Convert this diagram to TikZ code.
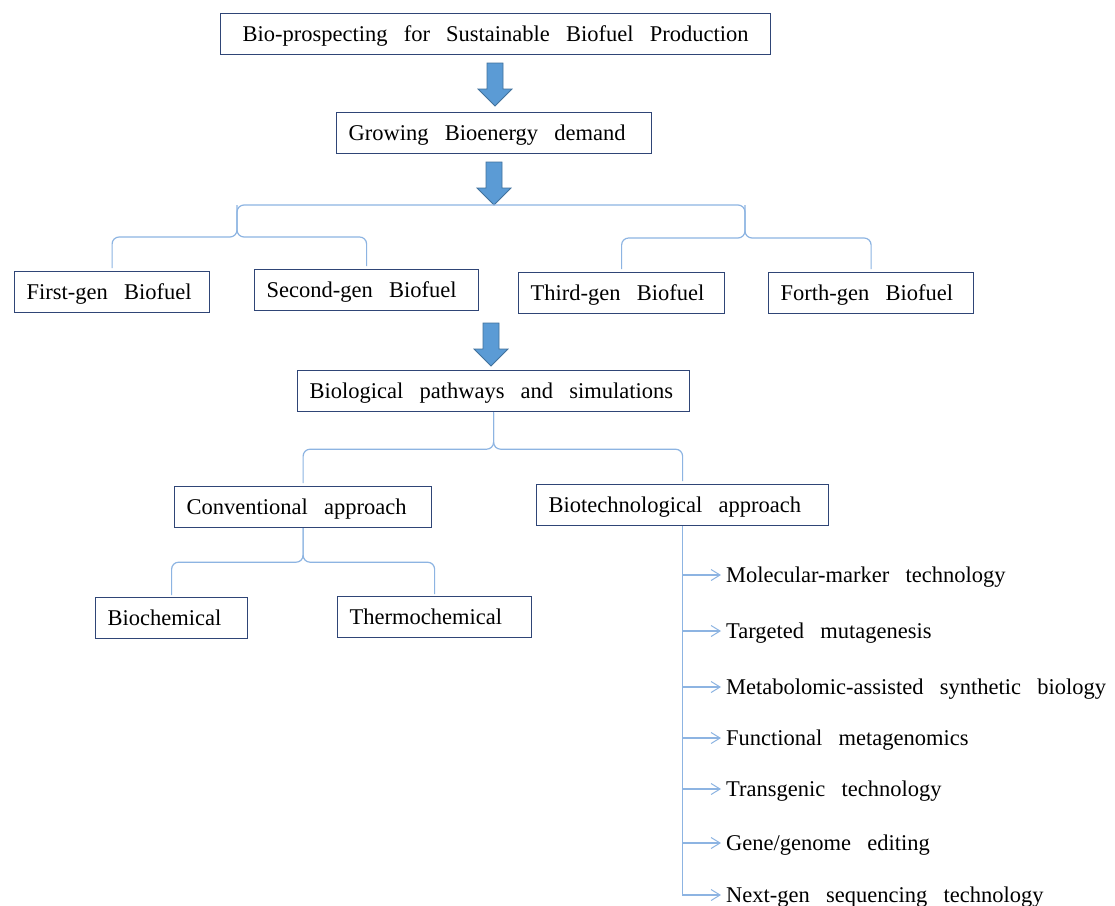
\documentclass[tikz,border=0pt]{standalone}
\usepackage{fontspec}
\setmainfont{Liberation Serif}
\usetikzlibrary{arrows.meta,calc}
\definecolor{boxc}{HTML}{2F4576}
\definecolor{bracec}{HTML}{8DB4E2}
\definecolor{arrfill}{HTML}{5B9BD5}
\definecolor{arrdraw}{HTML}{41719C}
\newcommand\myfnt{\fontsize{22.5}{27}\selectfont\spaceskip=0.72em\relax}
\newcommand\bt[1]{\mbox{\spaceskip=0.72em\relax #1}}
\begin{document}
\begin{tikzpicture}[x=1pt,y=-1pt,
  bx/.style={draw=boxc, line width=1.2pt, fill=white, inner xsep=12pt, inner ysep=0pt,
    minimum height=41pt, text width=#1, align=left, anchor=north west,
    text height=15pt, text depth=0pt, font=\myfnt},
  item/.style={anchor=west, inner xsep=5pt, inner ysep=0pt, text height=15pt, text depth=0pt, font=\myfnt},
  brace/.style={draw=bracec, line width=1.2pt, rounded corners=7pt},
  lst/.style={draw=bracec, line width=1.2pt},
  tip/.style={-{Straight Barb[length=9pt,width=11pt,line width=1pt]}},
  blockarrow/.pic={\filldraw[fill=arrfill, draw=arrdraw, line width=0.8pt]
    (-8,0) -- (8,0) -- (8,26) -- (17,26) -- (0,43) -- (-17,26) -- (-8,26) -- cycle;}
]
\fill[white] (0,0) rectangle (1115,905);
\useasboundingbox (0,0) rectangle (1115,905);

% boxes
\node[bx=526, align=center] (top) at (220,13) {\bt{Bio-prospecting for Sustainable Biofuel Production}};
\node[bx=291] (grow) at (336,112) {\bt{Growing Bioenergy demand}};
\node[bx=171] (first) at (14,271) {\bt{First-gen Biofuel}};
\node[bx=200] (second) at (254,269) {\bt{Second-gen Biofuel}};
\node[bx=182] (third) at (518,272) {\bt{Third-gen Biofuel}};
\node[bx=181] (forth) at (768,272) {\bt{Forth-gen Biofuel}};
\node[bx=368] (bio) at (297,370) {\bt{Biological pathways and simulations}};
\node[bx=233] (conv) at (174,486) {\bt{Conventional approach}};
\node[bx=268] (biot) at (536,484) {\bt{Biotechnological approach}};
\node[bx=128] (bchem) at (95,597) {\bt{Biochemical}};
\node[bx=170] (tchem) at (337,596) {\bt{Thermochemical}};

% block arrows
\pic at (495,63) {blockarrow};
\pic at (494,162) {blockarrow};
\pic at (491,323) {blockarrow};

% braces for generations
\coordinate (tl) at (237,205);
\coordinate (tr) at (745,205);
\coordinate (lb) at (237,237);
\coordinate (rb) at (745,238);
\draw[brace, shorten <=3pt, shorten >=3pt] (first.north) |- (lb) -- (tl) -- (tr) -- (rb) -| (forth.north);
\draw[brace, shorten <=3pt] (second.north) |- (lb) -- (tl);
\draw[brace, shorten <=3pt] (third.north) |- (rb) -- (tr);

% brace under biological pathways
\coordinate (pb) at ($(bio.south)+(0,37)$);
\draw[brace, shorten <=3pt, shorten >=1pt] (conv.north) |- (pb) -- (bio.south);
\draw[brace, shorten <=3pt] (biot.north) |- (pb) -- (bio.south);

% brace under conventional
\coordinate (pc) at ($(conv.south)+(0,34)$);
\draw[brace, shorten <=2pt] (bchem.north) |- (pc) -- (conv.south);
\draw[brace, shorten <=2pt] (tchem.north) |- (pc) -- (conv.south);

% biotechnological list
\node[item] (i1) at (721,575) {Molecular-marker technology};
\node[item] (i2) at (721,631) {Targeted mutagenesis};
\node[item] (i3) at (721,687) {Metabolomic-assisted synthetic biology};
\node[item] (i4) at (721,738) {Functional metagenomics};
\node[item] (i5) at (721,789) {Transgenic technology};
\node[item] (i6) at (721,843) {Gene/genome editing};
\node[item] (i7) at (721,895) {Next-gen sequencing technology};
\draw[lst, tip] (biot.south) |- (i7.west);
\foreach \i in {1,...,6}{
  \draw[lst, tip] (biot.south |- i\i.west) -- (i\i.west);
}
\end{tikzpicture}
\end{document}
